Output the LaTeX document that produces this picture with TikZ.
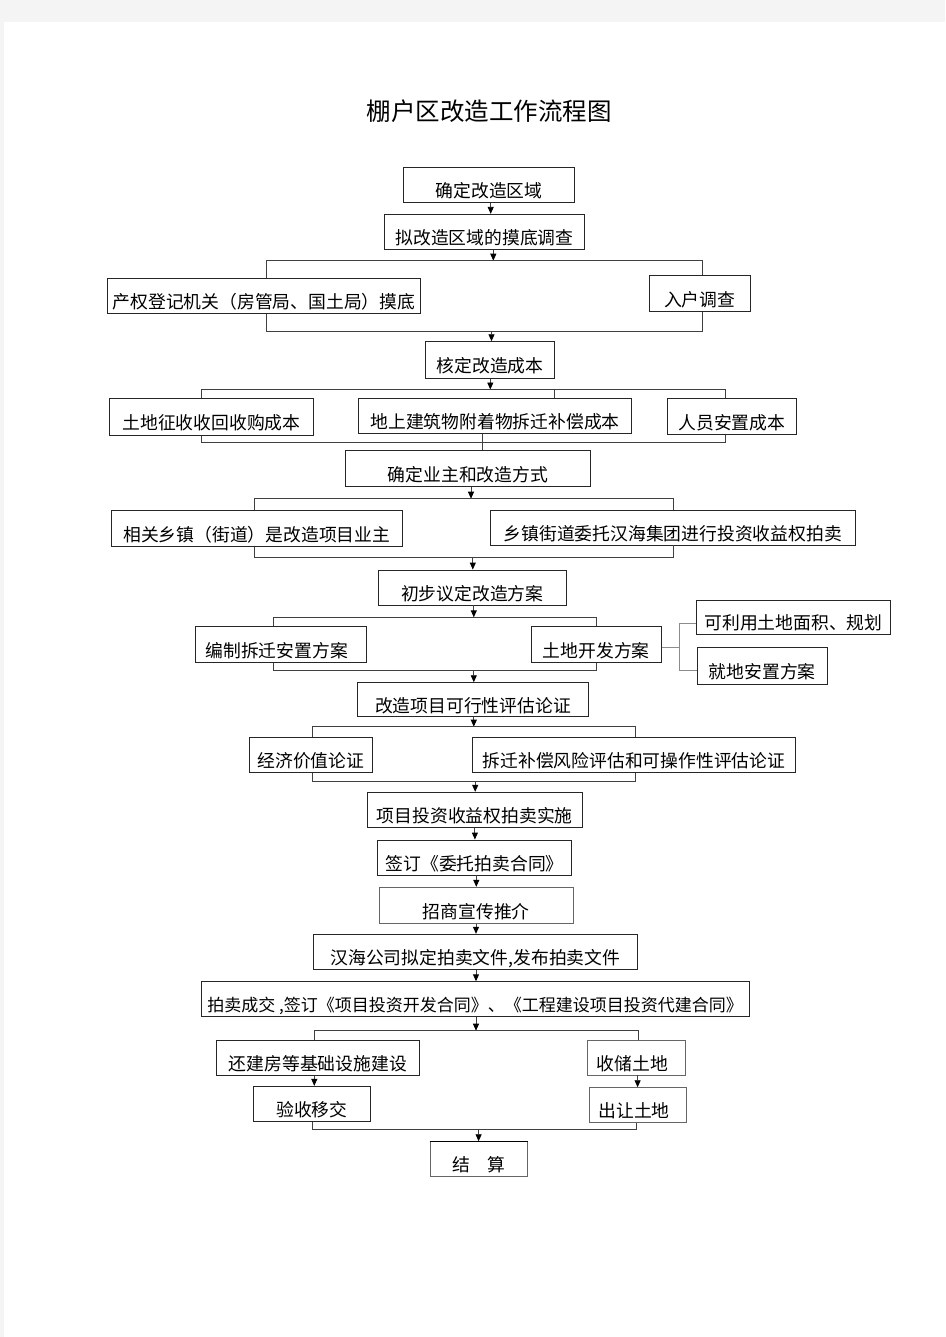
\documentclass[tikz,border=0pt]{standalone}
\usepackage{fontspec}
\setmainfont{Noto Sans CJK SC}
\usetikzlibrary{arrows.meta}
\definecolor{pagegray}{HTML}{F4F4F4}
\begin{document}
\begin{tikzpicture}[x=1pt,y=-1pt,
  bx/.style={draw=black!85, line width=0.9pt, inner sep=0pt, text height=29.8pt, text depth=4.2pt,
    font={\fontsize{17.8}{20}\selectfont}},
  gbx/.style={bx, draw=black!60},
  ln/.style={draw=black!75, line width=0.9pt},
  gln/.style={draw=black!45, line width=0.9pt},
  arr/.style={ln, -{Triangle[length=7pt,width=6pt,color=black]}}]
\useasboundingbox (0,0) rectangle (945,1337);
\fill[pagegray] (0,0) rectangle (945,1337);
\fill[white] (4,22) rectangle (945,1337);

\node[font={\fontsize{24.5}{28}\selectfont}, anchor=base] (title) at (489,121) {棚户区改造工作流程图};

% boxes
\node[bx, minimum width=171pt, minimum height=35pt] (n1) at (489,184.8) {确定改造区域};
\node[bx, minimum width=200pt, minimum height=35pt] (n2) at (484.4,231.8) {拟改造区域的摸底调查};
\node[bx, minimum width=313pt, minimum height=35pt] (n3) at (264,295.8) {产权登记机关（房管局、国土局）摸底};
\node[bx, minimum width=101.4pt, minimum height=36pt] (n4) at (699.7,293.7) {入户调查};
\node[bx, minimum width=129pt, minimum height=36.6pt] (n5) at (490,360) {核定改造成本};
\node[bx, minimum width=204pt, minimum height=37pt] (n6) at (211.5,416.8) {土地征收收回收购成本};
\node[bx, minimum width=273.2pt, minimum height=34.6pt] (n7) at (495.1,416) {地上建筑物附着物拆迁补偿成本};
\node[bx, minimum width=129.5pt, minimum height=36pt] (n8) at (731.8,416.3) {人员安置成本};
\node[bx, minimum width=244.8pt, minimum height=36pt] (n9) at (468,468.7) {确定业主和改造方式};
\node[bx, minimum width=290.5pt, minimum height=36.4pt] (n10) at (256.8,528.5) {相关乡镇（街道）是改造项目业主};
\node[bx, minimum width=364.7pt, minimum height=35pt] (n11) at (672.7,527.5) {乡镇街道委托汉海集团进行投资收益权拍卖};
\node[bx, minimum width=187.8pt, minimum height=35pt] (n12) at (472.2,587.5) {初步议定改造方案};
\node[bx, minimum width=170.8pt, minimum height=35.7pt] (n13) at (280.6,644.2) {编制拆迁安置方案\hspace*{8pt}};
\node[bx, minimum width=130pt, minimum height=35.7pt] (n14) at (596.2,644.2) {土地开发方案};
\node[bx, minimum width=193.8pt, minimum height=34pt] (n16) at (793.4,617) {可利用土地面积、规划};
\node[bx, minimum width=129.5pt, minimum height=36.6pt] (n17) at (762.3,666) {就地安置方案};
\node[bx, minimum width=231.4pt, minimum height=34pt] (n15) at (472.9,699.7) {改造项目可行性评估论证};
\node[bx, minimum width=123.9pt, minimum height=34.6pt] (n18) at (310.9,755) {经济价值论证};
\node[bx, minimum width=323.7pt, minimum height=34.7pt] (n19) at (633.9,754.7) {拆迁补偿风险评估和可操作性评估论证};
\node[bx, minimum width=215pt, minimum height=35pt] (n20) at (474.7,809.8) {项目投资收益权拍卖实施};
\node[bx, minimum width=194.2pt, minimum height=35pt] (n21) at (474.7,857.5) {签订《委托拍卖合同》};
\node[gbx, minimum width=194.3pt, minimum height=36pt] (n22) at (476.2,905.3) {招商宣传推介};
\node[bx, minimum width=324.4pt, minimum height=35pt] (n23) at (475.4,951.8) {汉海公司拟定拍卖文件,发布拍卖文件};
\node[bx, minimum width=548.4pt, minimum height=34.3pt, font={\fontsize{17}{20}\selectfont}] (n24) at (475.2,998.9) {拍卖成交 ,签订《项目投资开发合同》、《工程建设项目投资代建合同》};
\node[bx, minimum width=203.1pt, minimum height=34.6pt] (n25) at (317.9,1058) {还建房等基础设施建设};
\node[gbx, minimum width=98.1pt, minimum height=35pt] (n26) at (636.4,1057.5) {收储土地\hspace*{8pt}};
\node[bx, minimum width=116.9pt, minimum height=35pt] (n27) at (311.8,1103.8) {验收移交};
\node[gbx, minimum width=96.9pt, minimum height=34.6pt] (n28) at (638,1105) {出让土地\hspace*{8pt}};
\node[gbx, minimum width=97.3pt, minimum height=34.6pt] (n29) at (478.8,1159) {结　算};
\draw[line width=1.4pt] (n29.north west) -- (n29.north east);

% branch / merge coordinates
\coordinate (b1L) at (266.5,260.7); \coordinate (b1R) at (702.7,260.7);
\coordinate (m1L) at (266.5,331.3); \coordinate (m1R) at (702.7,331.3);
\coordinate (b2L) at (201,389.5); \coordinate (b2M) at (554.5,389.5); \coordinate (b2R) at (725.3,389.5);
\coordinate (m2L) at (201,442.7); \coordinate (m2R) at (725.3,442.7);
\coordinate (b3L) at (254.7,498.7); \coordinate (b3R) at (673,498.7);
\coordinate (m3L) at (254.7,557.3); \coordinate (m3R) at (673,557.3);
\coordinate (b4L) at (273.2,617.3); \coordinate (b4R) at (596,617.3);
\coordinate (m4L) at (273.2,670.3); \coordinate (m4R) at (596,670.3);
\coordinate (sT) at (679.5,623.3); \coordinate (sM) at (679.5,647.3); \coordinate (sB) at (679.5,670);
\coordinate (b5L) at (312.2,726.7); \coordinate (b5R) at (635,726.7);
\coordinate (m5L) at (312.2,781); \coordinate (m5R) at (635,781);
\coordinate (b6L) at (314.3,1030.7); \coordinate (b6R) at (638,1030.7);
\coordinate (m6L) at (312.5,1129); \coordinate (m6R) at (636.5,1129);

% connectors
\draw[arr] ([xshift=1.7pt]n1.south) -- ([xshift=1.7pt]n1.south |- n2.north);
\draw[arr] ([xshift=8.9pt]n2.south) -- ([xshift=8.9pt]n2.south |- b1L);
\draw[ln] (n3.north -| b1L) -- (b1L) -- (b1R) -- (n4.north -| b1R);
\draw[ln] (n3.south -| m1L) -- (m1L) -- (m1R) -- (n4.south -| m1R);
\draw[arr] ([xshift=1.5pt]n5.north |- m1L) -- ([xshift=1.5pt]n5.north);

\draw[arr] ([xshift=0.3pt]n5.south) -- ([xshift=0.3pt]n5.south |- b2L);
\draw[ln] (n6.north -| b2L) -- (b2L) -- (b2R) -- (n8.north -| b2R);
\draw[ln] (b2M) -- (n7.north -| b2M);
\draw[ln] (n6.south -| m2L) -- (m2L) -- (m2R) -- (n8.south -| m2R);
\draw[ln] ([xshift=-12.6pt]n7.south) -- ([xshift=-12.6pt]n7.south |- n9.north);

\draw[arr] ([xshift=3pt]n9.south) -- ([xshift=3pt]n9.south |- b3L);
\draw[ln] (n10.north -| b3L) -- (b3L) -- (b3R) -- (n11.north -| b3R);
\draw[ln] (n10.south -| m3L) -- (m3L) -- (m3R) -- (n11.south -| m3R);
\draw[arr] ([xshift=0.6pt]n12.north |- m3L) -- ([xshift=0.6pt]n12.north);

\draw[arr] ([xshift=1.6pt]n12.south) -- ([xshift=1.6pt]n12.south |- b4L);
\draw[ln] (n13.north -| b4L) -- (b4L) -- (b4R) -- (n14.north -| b4R);
\draw[ln] (n13.south -| m4L) -- (m4L) -- (m4R) -- (n14.south -| m4R);
\draw[arr] ([xshift=0.9pt]n15.north |- m4L) -- ([xshift=0.9pt]n15.north);
\draw[gln] (n14.east |- sM) -- (sM);
\draw[gln] (n16.west |- sT) -- (sT) -- (sB) -- (n17.west |- sB);

\draw[arr] ([xshift=0.9pt]n15.south) -- ([xshift=0.9pt]n15.south |- b5L);
\draw[ln] (n18.north -| b5L) -- (b5L) -- (b5R) -- (n19.north -| b5R);
\draw[ln] (n18.south -| m5L) -- (m5L) -- (m5R) -- (n19.south -| m5R);
\draw[arr] ([xshift=0.5pt]n20.north |- m5L) -- ([xshift=0.5pt]n20.north);

\draw[arr] ([xshift=0.2pt]n20.south) -- ([xshift=0.2pt]n20.south |- n21.north);
\draw[arr] ([xshift=1.6pt]n21.south) -- ([xshift=1.6pt]n21.south |- n22.north);
\draw[arr] ([xshift=-0.2pt]n22.south) -- ([xshift=-0.2pt]n22.south |- n23.north);
\draw[arr] ([xshift=0.6pt]n23.south) -- ([xshift=0.6pt]n23.south |- n24.north);

\draw[arr] ([xshift=0.8pt]n24.south) -- ([xshift=0.8pt]n24.south |- b6L);
\draw[ln] (n25.north -| b6L) -- (b6L) -- (b6R) -- (n26.north -| b6R);
\draw[arr] ([xshift=-3.6pt]n25.south) -- ([xshift=-3.6pt]n25.south |- n27.north);
\draw[arr] ([xshift=1.2pt]n26.south) -- ([xshift=1.2pt]n26.south |- n28.north);
\draw[ln] (n27.south -| m6L) -- (m6L) -- (m6R) -- (n28.south -| m6R);
\draw[arr] ([xshift=-0.2pt]n29.north |- m6L) -- ([xshift=-0.2pt]n29.north);
\end{tikzpicture}
\end{document}
